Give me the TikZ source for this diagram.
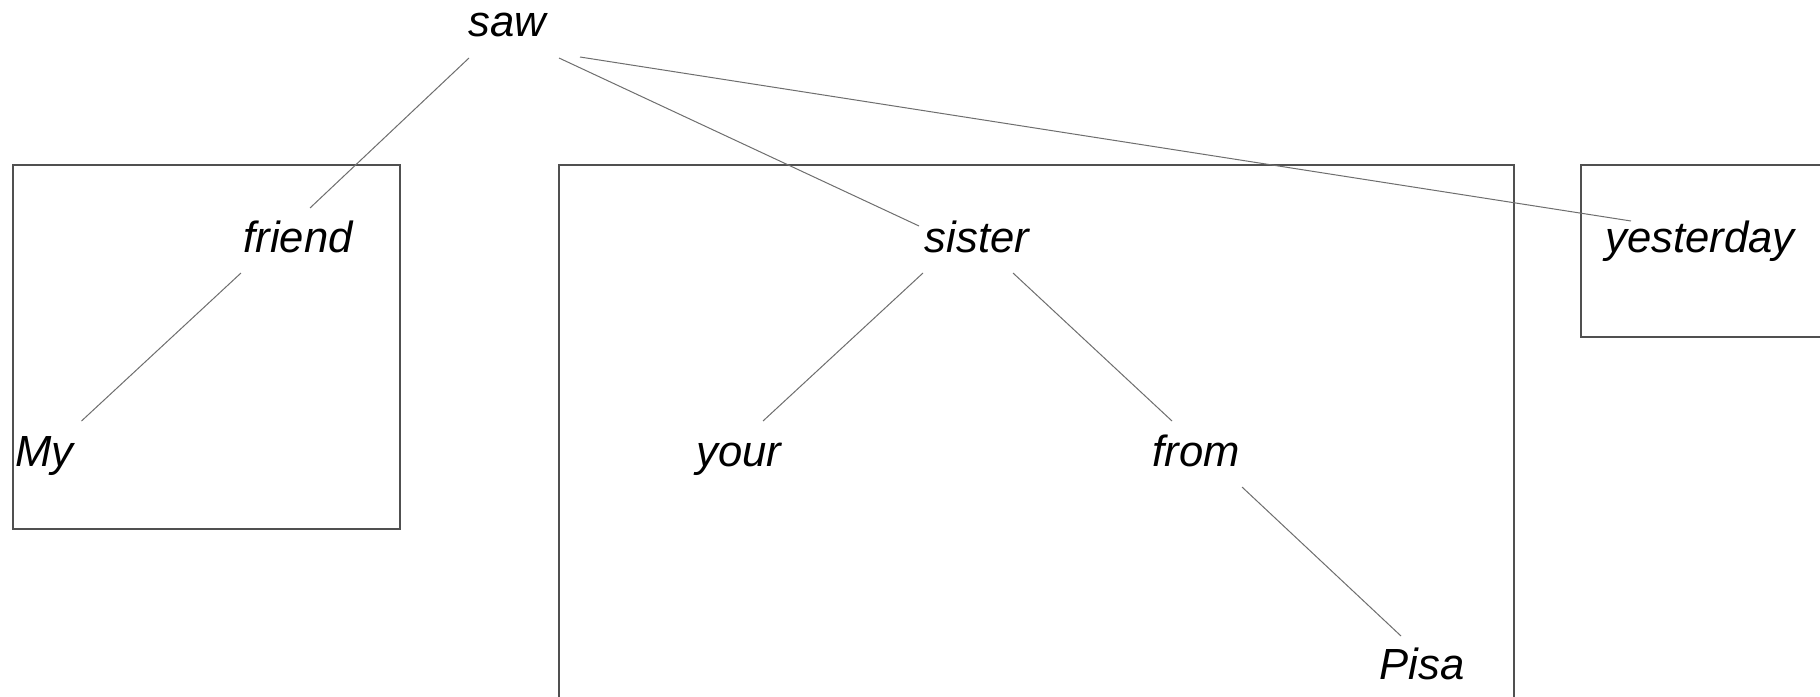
\documentclass[tikz,border=0pt]{standalone}
\usepackage{fontspec}
\setmainfont{Liberation Sans}
\usetikzlibrary{calc}
\definecolor{edgecol}{HTML}{6E6E6E}
\definecolor{boxcol}{HTML}{505050}
\begin{document}
\begin{tikzpicture}[x=0.5pt,y=-0.5pt,
  word/.style={anchor=base,inner sep=0pt,font=\fontsize{21.8}{26}\selectfont\itshape},
  edge/.style={draw=edgecol,line width=0.5pt},
  frame/.style={draw=boxcol,line width=0.7pt}]
\clip (0,0) rectangle (1820,696);
\fill[white] (0,0) rectangle (1820,696);
% boxes
\draw[frame] (13,165) rectangle (400,529);
\draw[frame] (559,165) rectangle (1514,720);
\draw[frame] (1581,165) rectangle (1840,337);
% words
\node[word] (saw) at (507,36) {saw};
\node[word] (friend) at (298,252) {friend};
\node[word] (my) at (44.5,466) {My};
\node[word] (sister) at (977,252) {sister};
\node[word] (your) at (739,466) {your};
\node[word] (from) at (1196,466) {from};
\node[word] (pisa) at (1422,679) {Pisa};
\node[word] (yesterday) at (1700,252) {yesterday};
% connectors
\draw[edge] ($(saw.base)+(-38,22)$) -- ($(friend.base)+(12,-44)$);
\draw[edge] ($(friend.base)+(-57,21)$) -- ($(my.base)+(37,-45)$);
\draw[edge] ($(saw.base)+(52,22)$) -- ($(sister.base)+(-58,-26)$);
\draw[edge] ($(saw.base)+(73,21)$) -- ($(yesterday.base)+(-69,-31)$);
\draw[edge] ($(sister.base)+(-54,21)$) -- ($(your.base)+(24,-45)$);
\draw[edge] ($(sister.base)+(36,21)$) -- ($(from.base)+(-24,-45)$);
\draw[edge] ($(from.base)+(46,21)$) -- ($(pisa.base)+(-21,-43)$);
\end{tikzpicture}
\end{document}
